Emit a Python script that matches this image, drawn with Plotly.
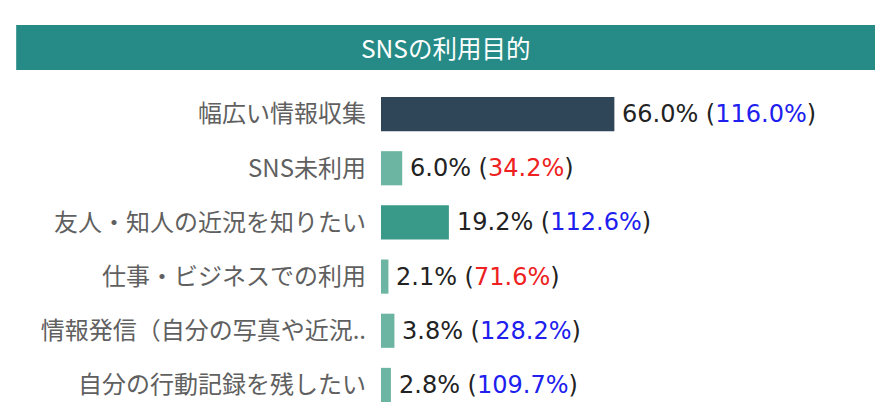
import plotly.graph_objects as go

# データ
categories = [
    "幅広い情報収集",
    "SNS未利用",
    "友人・知人の近況を知りたい",
    "仕事・ビジネスでの利用",
    "情報発信（自分の写真や近況..",
    "自分の行動記録を残したい",
]
shares = [66.0, 6.0, 19.2, 2.1, 3.8, 2.8]
ratios = [116.0, 34.2, 112.6, 71.6, 128.2, 109.7]
bar_colors = ["#2f4558", "#6bb5a2", "#3a9a8a", "#6bb5a2", "#6bb5a2", "#6bb5a2"]

color_banda = "#268b87"
color_etiqueta = "#606060"

fig = go.Figure()

fig.add_trace(go.Bar(
    x=shares,
    y=categories,
    orientation="h",
    marker=dict(color=bar_colors, line=dict(width=0)),
    hoverinfo="skip",
))

# etiquetas de valor a la derecha de cada barra
for cat, v, r in zip(categories, shares, ratios):
    c = "#2020ee" if r >= 100 else "#ee2020"
    fig.add_annotation(
        x=v, y=cat, xref="x", yref="y",
        text=f"{v:.1f}% (<span style='color:{c}'>{r:.1f}%</span>)",
        showarrow=False, xanchor="left", xshift=6,
        font=dict(family="DejaVu Sans", size=24, color="#222222"),
    )

# banda del título
fig.add_shape(
    type="rect", xref="paper", yref="paper",
    x0=-0.737, x1=0.998, y0=1.052, y1=1.191,
    fillcolor=color_banda, line=dict(width=0), layer="above",
)
fig.add_annotation(
    x=0.130, y=1.1215, xref="paper", yref="paper",
    text="SNSの利用目的", showarrow=False,
    xanchor="center", yanchor="middle",
    font=dict(family="Noto Sans CJK JP", size=24.5, color="#ffffff"),
)

fig.update_layout(
    width=892, height=412,
    margin=dict(l=381, r=16, t=87, b=0, autoexpand=False),
    plot_bgcolor="rgba(0,0,0,0)",
    paper_bgcolor="#ffffff",
    showlegend=False,
    bargap=0.37,
    xaxis=dict(range=[0, 140], visible=False, fixedrange=True),
    yaxis=dict(
        autorange="reversed", automargin=False,
        showgrid=False, zeroline=False, showline=False,
        ticks="", ticklabelstandoff=14,
        tickfont=dict(family="Noto Sans CJK JP", size=24, color=color_etiqueta),
        fixedrange=True,
    ),
)

fig.write_html(
    "out.html",
    config={"displayModeBar": False},
    post_script="document.body.style.margin='0';",
)
